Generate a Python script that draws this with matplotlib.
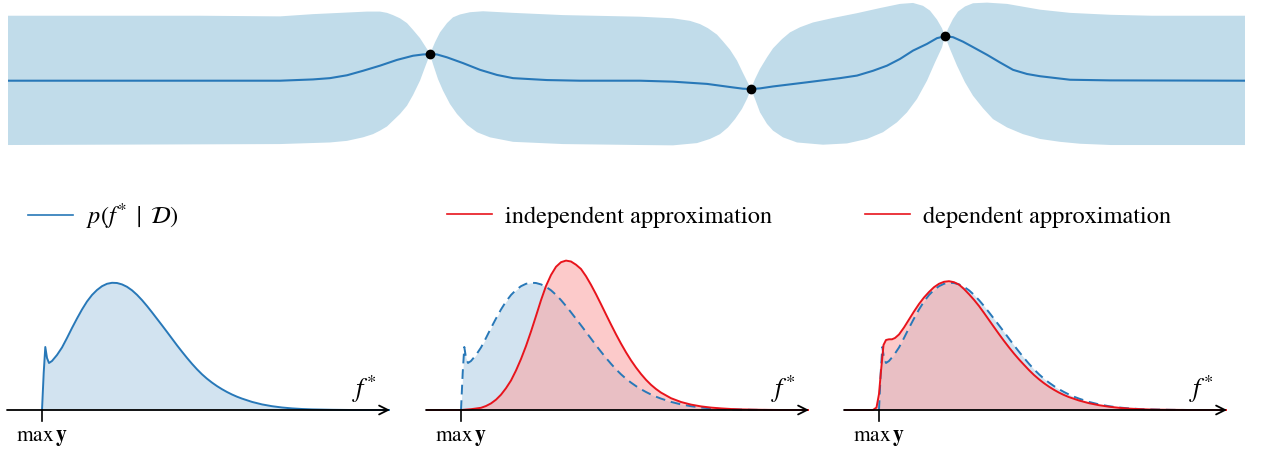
import numpy as np
import matplotlib
matplotlib.use("Agg")
import matplotlib.pyplot as plt
from matplotlib.lines import Line2D

plt.rcParams['font.family'] = ['STIXGeneral', 'DejaVu Serif']
plt.rcParams['mathtext.fontset'] = 'stix'

# --- top panel: GP posterior (mean and +/- 2 sd band) ---
obs_x = [430, 751, 945]
obs_y = [0.83, -0.26, 1.39]

mean_x = [8, 280, 313, 330, 347, 363, 380, 397, 413, 423, 430, 437, 447, 463, 480, 497, 513, 547, 580,
          640, 673, 707, 733, 743, 751, 760, 773, 807, 840, 857, 873, 887, 900, 913, 927, 937, 945,
          953, 963, 973, 987, 1000, 1013, 1027, 1040, 1070, 1110, 1245]
mean_y = [0, 0, 0.04, 0.08, 0.17, 0.31, 0.47, 0.65, 0.78, 0.82, 0.83, 0.82, 0.73, 0.55, 0.34, 0.18, 0.08, 0.02, 0,
          0, -0.03, -0.10, -0.21, -0.25, -0.26, -0.24, -0.18, -0.05, 0.08, 0.16, 0.31, 0.47, 0.68, 0.94, 1.15,
          1.33, 1.39, 1.36, 1.22, 1.05, 0.81, 0.57, 0.34, 0.21, 0.14, 0.03, 0.01, 0]

upper_x = [8, 200, 280, 313, 347, 367, 380, 387, 393, 400, 407, 413, 420, 427, 430, 435, 440, 447, 453, 460,
           470, 483, 513, 563, 640, 673, 690, 700, 708, 717, 723, 730, 737, 743, 751, 755, 760, 767, 773,
           782, 790, 800, 813, 833, 857, 880, 900, 913, 923, 930, 937, 942, 945, 948, 953, 958, 965, 973,
           987, 1007, 1040, 1070, 1110, 1152, 1245]
upper_y = [2.03, 2.03, 2.01, 2.08, 2.13, 2.16, 2.16, 2.12, 2.05, 1.95, 1.80, 1.59, 1.33, 0.99, 0.83, 1.20,
           1.51, 1.80, 1.98, 2.07, 2.14, 2.17, 2.12, 2.05, 2.00, 1.95, 1.87, 1.77, 1.64, 1.44, 1.23, 0.97,
           0.63, 0.24, -0.26, 0.05, 0.37, 0.73, 1.01, 1.30, 1.51, 1.67, 1.82, 1.96, 2.11, 2.27, 2.40, 2.43,
           2.34, 2.19, 1.91, 1.64, 1.39, 1.62, 1.93, 2.16, 2.32, 2.42, 2.44, 2.40, 2.22, 2.12, 2.06, 2.03, 2.03]

lower_x = [8, 280, 330, 347, 363, 373, 380, 387, 393, 400, 407, 413, 420, 425, 430, 433, 438, 443, 450, 457,
           467, 477, 490, 513, 563, 640, 673, 697, 710, 720, 728, 735, 742, 747, 751, 755, 760, 767, 773,
           783, 797, 823, 847, 867, 883, 897, 907, 917, 927, 935, 942, 945, 950, 957, 965, 973, 983, 993,
           1007, 1023, 1040, 1060, 1080, 1111, 1245]
lower_y = [-2.01, -1.98, -1.93, -1.88, -1.77, -1.67, -1.56, -1.43, -1.25, -1.04, -0.78, -0.45, 0, 0.42, 0.83,
           0.52, 0.05, -0.31, -0.73, -1.04, -1.38, -1.61, -1.77, -1.91, -1.98, -2.01, -2.02, -1.95, -1.82,
           -1.67, -1.46, -1.20, -0.88, -0.57, -0.26, -0.57, -0.99, -1.35, -1.56, -1.77, -1.93, -2.00, -1.96,
           -1.82, -1.61, -1.30, -0.99, -0.57, 0, 0.57, 1.04, 1.39, 0.99, 0.47, -0.05, -0.47, -0.86, -1.20,
           -1.46, -1.67, -1.82, -1.91, -1.97, -2.01, -2.01]

# --- bottom panels: densities of f* (x measured from max y) ---
post_x = [0, 0.17, 0.33, 0.5, 0.7, 1.0, 1.5, 2.0, 2.5, 3.0, 3.5, 4.0, 4.5, 5.0, 5.5, 6.0, 6.5, 7.0, 7.5,
          8.0, 8.5, 9.0, 9.5, 10.0, 10.5, 11.0, 11.5, 12.0, 12.5, 13.0, 13.5, 14.0, 14.5, 15.0, 15.5, 16.0,
          16.5, 17.0, 17.5, 18.0, 18.5, 19.0, 19.5, 20.0, 21.0, 22.0, 23.0, 24.0, 25.0, 26.0, 27.0, 28.0,
          29.0, 30.0, 31.0, 34.8]
post_y = [0, 0.37, 0.63, 0.52, 0.47, 0.49, 0.55, 0.625, 0.72, 0.82, 0.915, 1.005, 1.085, 1.15, 1.20, 1.238,
          1.262, 1.272, 1.27, 1.256, 1.232, 1.197, 1.152, 1.099, 1.04, 0.977, 0.912, 0.847, 0.781, 0.714,
          0.647, 0.583, 0.521, 0.462, 0.407, 0.357, 0.313, 0.274, 0.239, 0.208, 0.18, 0.155, 0.133, 0.114,
          0.081, 0.056, 0.038, 0.025, 0.016, 0.010, 0.006, 0.004, 0.002, 0.001, 0, 0]

indep_x = [-3.5, 0, 1.0, 2.0, 2.5, 3.0, 3.5, 4.0, 4.5, 5.0, 5.5, 6.0, 6.5, 7.0, 7.5, 8.0, 8.5, 9.0, 9.5,
           10.0, 10.5, 11.0, 11.5, 12.0, 12.5, 13.0, 13.5, 14.0, 14.5, 15.0, 15.5, 16.0, 16.5, 17.0, 17.5,
           18.0, 18.5, 19.0, 19.5, 20.0, 21.0, 22.0, 23.0, 24.0, 25.0, 26.0, 27.0, 28.0, 29.0, 30.0, 31.0,
           32.0, 34.8]
indep_y = [0, 0, 0.008, 0.022, 0.04, 0.066, 0.103, 0.153, 0.218, 0.295, 0.395, 0.51, 0.64, 0.785, 0.94,
           1.098, 1.24, 1.35, 1.432, 1.478, 1.494, 1.485, 1.453, 1.41, 1.338, 1.252, 1.158, 1.058, 0.956,
           0.855, 0.757, 0.664, 0.577, 0.497, 0.425, 0.36, 0.302, 0.252, 0.21, 0.174, 0.118, 0.08, 0.054,
           0.036, 0.024, 0.016, 0.010, 0.006, 0.004, 0.002, 0.001, 0, 0]

dep_x = [-3.5, -0.6, -0.25, 0, 0.2, 0.45, 0.7, 1.0, 1.3, 1.6, 2.0, 2.5, 3.0, 3.5, 4.0, 4.5, 5.0, 5.5, 6.0,
         6.5, 7.0, 7.5, 8.0, 8.5, 9.0, 9.5, 10.0, 10.5, 11.0, 11.5, 12.0, 12.5, 13.0, 13.5, 14.0, 14.5,
         15.0, 15.5, 16.0, 16.5, 17.0, 17.5, 18.0, 18.5, 19.0, 20.0, 21.0, 22.0, 23.0, 24.0, 25.0, 26.0,
         27.0, 28.0, 29.0, 30.0, 31.0, 34.8]
dep_y = [0, 0, 0.025, 0.16, 0.39, 0.65, 0.70, 0.707, 0.707, 0.72, 0.755, 0.825, 0.905, 0.985, 1.06, 1.125,
         1.18, 1.228, 1.262, 1.282, 1.288, 1.278, 1.254, 1.21, 1.158, 1.102, 1.04, 0.971, 0.9, 0.829, 0.759,
         0.691, 0.626, 0.564, 0.506, 0.452, 0.399, 0.35, 0.307, 0.268, 0.233, 0.202, 0.174, 0.15, 0.129,
         0.095, 0.068, 0.048, 0.033, 0.022, 0.014, 0.009, 0.005, 0.003, 0.002, 0.001, 0, 0]

legend_labels = [r'$p(f^{*}\;\mid\;\mathcal{D})$', 'independent approximation', 'dependent approximation']

blue = '#2878b8'
red = '#e8141c'
band = '#c1dcea'

W, H = 1262, 452
fig = plt.figure(figsize=(W / 100, H / 100), dpi=100)

# top axes
ax = fig.add_axes([8 / W, 1 - 150 / H, 1237 / W, 150 / H])
ax.fill(np.concatenate([upper_x, lower_x[::-1]]), np.concatenate([upper_y, lower_y[::-1]]),
        color=band, lw=0)
ax.plot(mean_x, mean_y, color=blue, lw=1.5)
ax.plot(obs_x, obs_y, 'o', color='k', ms=6)
ax.set_xlim(8, 1245)
ax.set_ylim((81.7 - 150) / 32, 81.7 / 32)
ax.axis('off')

# bottom axes
starts = [7, 426, 844]
for i, x0 in enumerate(starts):
    a = fig.add_axes([x0 / W, 1 - 420 / H, 383 / W, 170 / H])
    a.set_xlim(-3.5, 34.8)
    a.set_ylim(-0.09, 1.61)
    a.axis('off')
    a.fill_between(post_x, 0, post_y, color='#1f77b4', alpha=0.2, lw=0)
    if i == 0:
        a.plot(post_x, post_y, color=blue, lw=1.4)
        h = Line2D([], [], color=blue, lw=1.2)
    else:
        a.plot(post_x, post_y, color=blue, lw=1.4, ls=(0, (5, 3)))
        rx, ry = (indep_x, indep_y) if i == 1 else (dep_x, dep_y)
        a.fill_between(rx, 0, ry, color='#faa8a8', alpha=0.6, lw=0)
        a.plot(rx, ry, color=red, lw=1.4)
        h = Line2D([], [], color=red, lw=1.2)
    a.annotate('', xy=(34.8, 0), xytext=(-3.5, 0), annotation_clip=False,
               arrowprops=dict(arrowstyle='->', lw=1.3, color='k', mutation_scale=16,
                               shrinkA=0, shrinkB=0))
    a.plot([0, 0], [0, -0.11], color='k', lw=1.2, clip_on=False)
    a.text(0, -0.27, r'$\max\,\mathbf{y}$', ha='center', va='center', fontsize=15.5)
    a.text(32.2, 0.22, r'$f^{*}$', ha='center', va='center', fontsize=19)
    a.legend(handles=[h], labels=[legend_labels[i]], loc='center left',
             bbox_to_anchor=((x0 + 21) / W, 1 - 217 / H), bbox_transform=fig.transFigure,
             frameon=False, borderpad=0, borderaxespad=0, handlelength=1.85,
             handletextpad=0.55, fontsize=17.5)

fig.savefig('out.png', dpi=100)
